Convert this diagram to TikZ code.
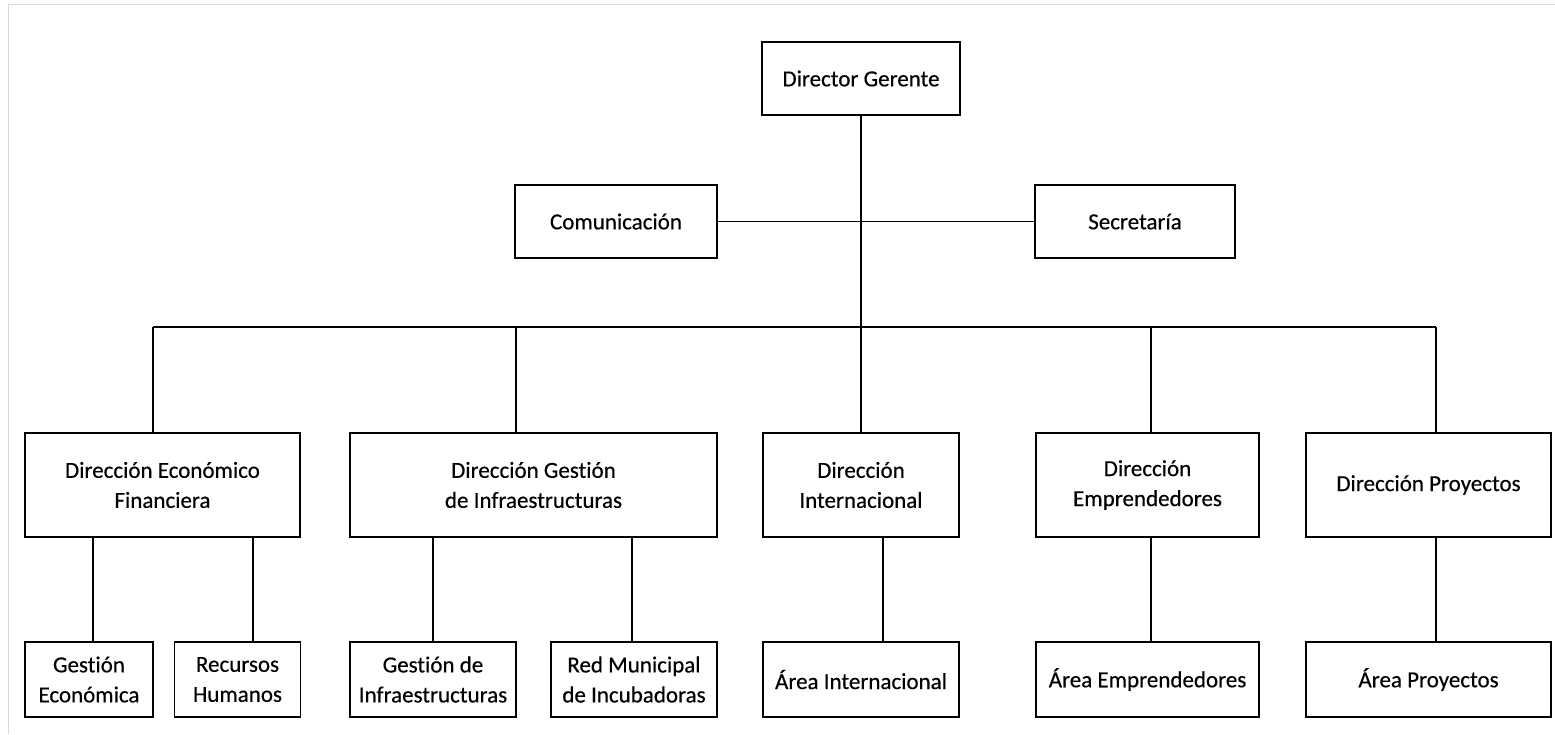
\documentclass[tikz,border=0pt]{standalone}
\usepackage{fontspec}
\setmainfont{Carlito}[FakeBold=0.4, Ligatures=NoCommon]
\usetikzlibrary{positioning}
\begin{document}
\begin{tikzpicture}[x=1pt, y=-1pt, line width=1.4pt,
    unit/.style={draw, align=center, inner sep=0pt, font=\fontsize{23}{30}\selectfont},
    head/.style={unit, minimum width=198pt, minimum height=73pt},
    dir/.style={unit, minimum height=104pt},
    area/.style={unit, minimum height=75pt}]
    \useasboundingbox (0,0) rectangle (1555,734);
    \draw[line width=0.8pt, black!14] (8,734) -- (8,4) -- (1555,4);
    % top
    \node[head] (dg) at (861,78.5) {Director Gerente};
    \node[head, minimum width=202pt] (com) at (616,221.5) {Comunicación};
    \node[head, minimum width=200pt] (sec) at (1135,221.5) {Secretaría};
    % direcciones
    \node[dir, minimum width=275pt] (def) at (162.5,485) {Dirección Económico\\Financiera};
    \node[dir, minimum width=367pt] (dgi) at (533.5,485) {Dirección Gestión\\de Infraestructuras};
    \node[dir, minimum width=196pt] (di) at (861,485) {Dirección\\Internacional};
    \node[dir, minimum width=223pt] (de) at (1147.5,485) {Dirección\\Emprendedores};
    \node[dir, minimum width=245pt] (dp) at (1428.5,485) {Dirección Proyectos};
    % areas
    \node[area, minimum width=128pt] (ge) at (89,679.5) {Gestión\\Económica};
    \node[area, minimum width=126pt] (rh) at (237.5,679.5) {Recursos\\Humanos};
    \node[area, minimum width=166pt] (gi) at (433,679.5) {Gestión de\\Infraestructuras};
    \node[area, minimum width=166pt] (rm) at (634,679.5) {Red Municipal\\de Incubadoras};
    \node[area, minimum width=196pt] (ai) at (861,679.5) {Área Internacional};
    \node[area, minimum width=223pt] (ae) at (1147.5,679.5) {Área Emprendedores};
    \node[area, minimum width=245pt] (ap) at (1428.5,679.5) {Área Proyectos};
    % bus
    \coordinate (busL) at ([xshift=-9.5pt]def.north |- 0,327);
    \coordinate (busR) at ([xshift=7.5pt]dp.north |- 0,327);
    \coordinate (def-t) at ([xshift=-9.5pt]def.north);
    \coordinate (dgi-a) at ([xshift=-17.5pt]dgi.north);
    \coordinate (de-a) at ([xshift=3.5pt]de.north);
    \coordinate (dp-a) at ([xshift=7.5pt]dp.north);
    \coordinate (ge-a) at ([xshift=4pt]ge.north);
    \coordinate (rh-a) at ([xshift=15.5pt]rh.north);
    \coordinate (rm-a) at ([xshift=-2pt]rm.north);
    \coordinate (ai-a) at ([xshift=22pt]ai.north);
    \coordinate (ae-a) at ([xshift=3.5pt]ae.north);
    \coordinate (ap-a) at ([xshift=7.5pt]ap.north);
    \draw (dg.south) -- (di.north);
    \draw (com.east) -- (sec.west);
    \draw (busL) -- (busR);
    \draw (busL) -- (def-t);
    \draw (dgi-a |- busL) -- (dgi-a);
    \draw (de-a |- busL) -- (de-a);
    \draw (busR) -- (dp-a);
    \draw (def.south -| ge-a) -- (ge-a);
    \draw (def.south -| rh-a) -- (rh-a);
    \draw (dgi.south -| gi.north) -- (gi.north);
    \draw (dgi.south -| rm-a) -- (rm-a);
    \draw (di.south -| ai-a) -- (ai-a);
    \draw (de.south -| ae-a) -- (ae-a);
    \draw (dp.south -| ap-a) -- (ap-a);
\end{tikzpicture}
\end{document}
